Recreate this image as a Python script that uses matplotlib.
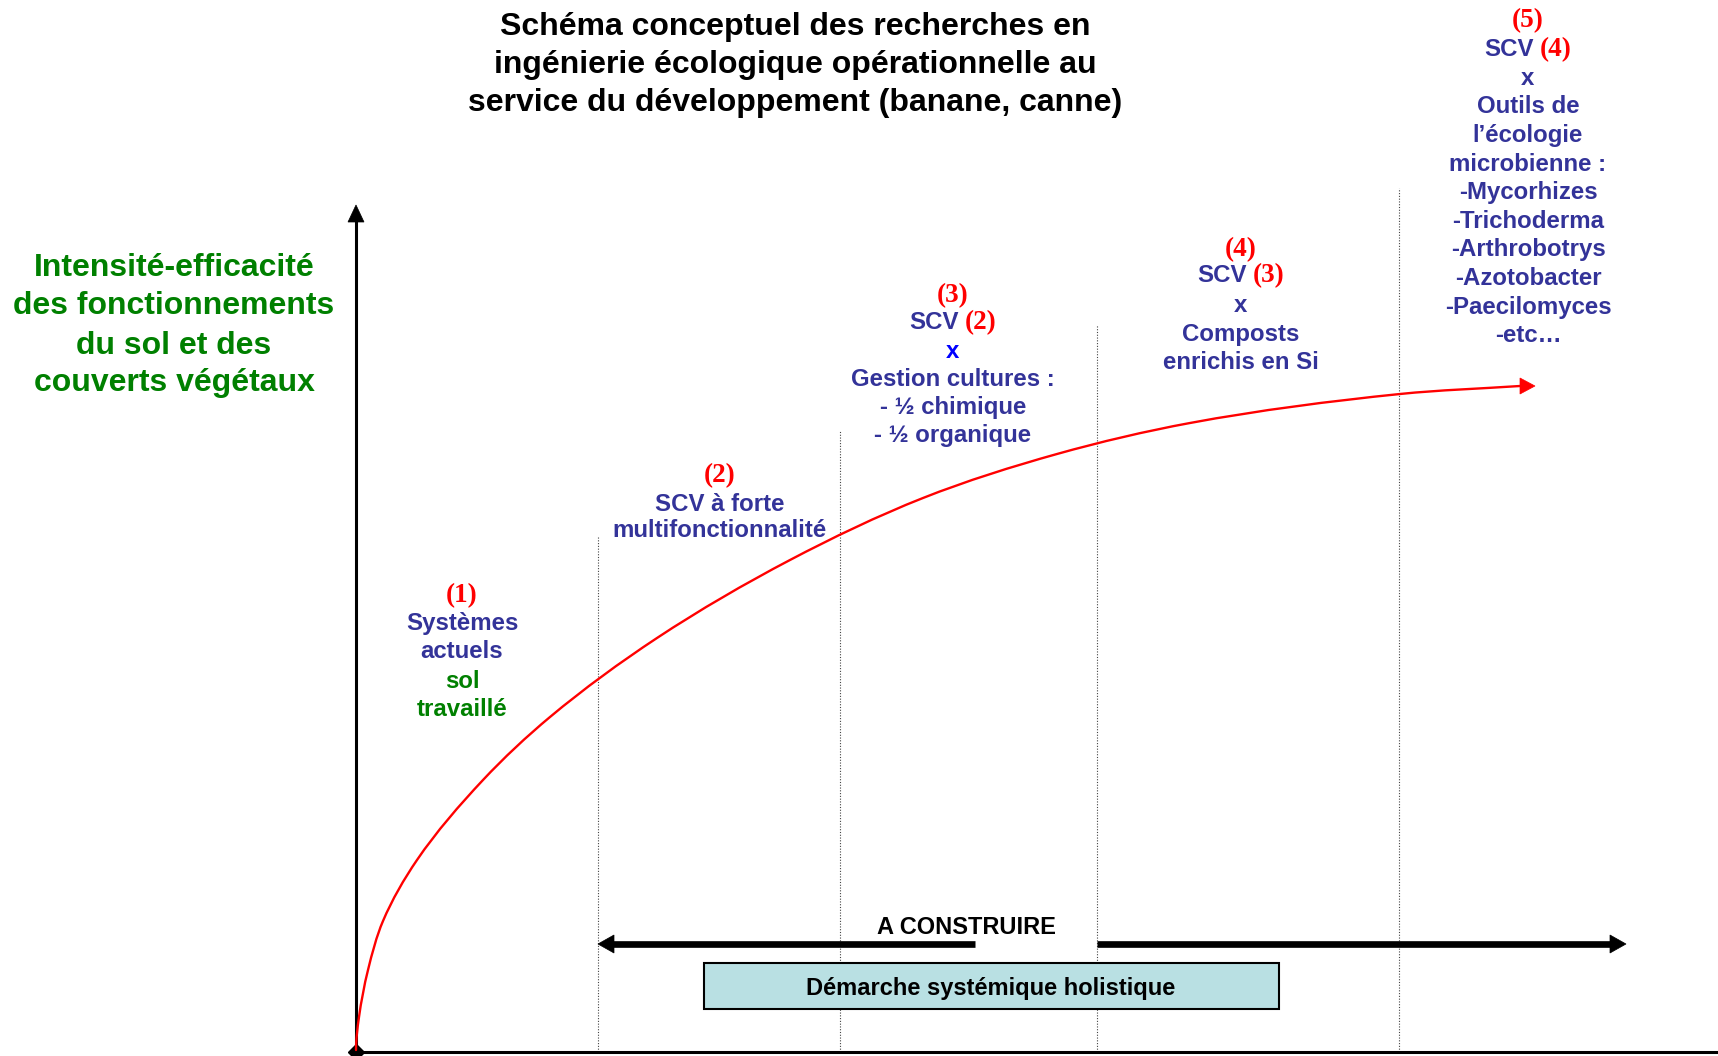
import matplotlib
matplotlib.use("Agg")
import matplotlib.pyplot as plt
from matplotlib.patches import Rectangle, Polygon, PathPatch
from matplotlib.path import Path
import numpy as np

# ---------------- data ----------------
# red curve, x = distance from the vertical axis, y = height above the horizontal axis
curve_x = [0, 3, 12, 27, 61, 127, 194, 301, 434, 567, 701, 834, 1044, 1164]
curve_y = [2, 35, 82, 131, 192, 272, 335, 414, 492, 554, 598, 629, 658, 666]
curve_tip_x = 1179

stage_x = [242, 484, 741, 1043]          # dotted stage boundaries
stage_top = [515, 621, 727, 864]

title_lines = ["Schéma conceptuel des recherches en",
               "ingénierie écologique opérationnelle au",
               "service du développement (banane, canne)"]
ylabel_lines = ["Intensité-efficacité", "des fonctionnements",
                "du sol et des", "couverts végétaux"]

label1_lines = [[("(1)", "r")], [("Systèmes", "b")], [("actuels", "b")],
                [("sol", "g")], [("travaillé", "g")]]
label2_lines = [[("(2)", "r")], [("SCV à forte", "b")], [("multifonctionnalité", "b")]]
label3_lines = [[("(3)", "r")], [("SCV", "b"), ("(2)", "r")], [("x", "x")],
                [("Gestion cultures :", "b")], [("- ½ chimique", "b")],
                [("- ½ organique", "b")]]
label4_lines = [[("(4)", "r")], [("SCV", "b"), ("(3)", "r")], [("x", "b")],
                [("Composts", "b")], [("enrichis en Si", "b")]]
label5_lines = [[("(5)", "r")], [("SCV", "b"), ("(4)", "r")], [("x", "b")],
                [("Outils de", "b")], [("l’écologie", "b")], [("microbienne :", "b")],
                [("-Mycorhizes", "b")], [("-Trichoderma", "b")], [("-Arthrobotrys", "b")],
                [("-Azotobacter", "b")], [("-Paecilomyces", "b")], [("-etc…", "b")]]

arrow_label = "A CONSTRUIRE"
box_label = "Démarche systémique holistique"

# ---------------- layout ----------------
W, H = 1718, 1056
OX, OY = 356, 1052   # pixel position of the origin


def X(px):
    return px - OX


def Y(py):
    return OY - py


BLUE, RED, GREEN, XBLUE = "#333399", "#ff0000", "#008000", "#0000ff"
COL = {"b": BLUE, "r": RED, "g": GREEN, "x": XBLUE}
SANS = ["Liberation Sans", "DejaVu Sans"]
SERIF = ["Liberation Serif", "DejaVu Serif"]

fig = plt.figure(figsize=(W / 100, H / 100), dpi=100)
ax = fig.add_axes([0, 0, 1, 1])
ax.set_xlim(-OX, W - OX)
ax.set_ylim(OY - H, OY)
ax.axis("off")
renderer = fig.canvas.get_renderer()


def draw_line(cx, py, parts, size=17.3, rsize=19.5):
    em = size * 100 / 72
    ts = []
    for s, k in parts:
        fam = SERIF if k == "r" else SANS
        fs = rsize if k == "r" else size
        t = ax.text(0, Y(py + 0.36 * em), s, color=COL[k], family=fam,
                    weight="bold", fontsize=fs, ha="left", va="baseline")
        ts.append(t)
    ws = [t.get_window_extent(renderer).width for t in ts]
    gap = 0.278 * em
    total = sum(ws) + gap * (len(ts) - 1)
    x0 = X(cx) - total / 2
    for t, w in zip(ts, ws):
        t.set_x(x0)
        x0 += w + gap


# title
for py, s in zip([23, 61, 100], title_lines):
    ax.text(X(795), Y(py + 11.5), s, ha="center", va="baseline", fontsize=23,
            weight="bold", family=SANS, color="black")

# green axis label
for py, s in zip([265, 303, 342, 380], ylabel_lines):
    ax.text(X(174), Y(py + 11.5), s, ha="center", va="baseline", fontsize=23,
            weight="bold", family=SANS, color=GREEN)

# stage labels
for cx, ys, lines in [
    (462, [593, 621, 649, 679, 707], label1_lines),
    (720, [473, 502, 528], label2_lines),
    (953, [293, 320, 349, 377, 405, 433], label3_lines),
    (1241, [247, 273, 303, 332, 360], label4_lines),
    (1528, [18, 47, 76, 104, 133, 162, 190, 219, 247, 276, 305, 333], label5_lines),
]:
    for py, parts in zip(ys, lines):
        draw_line(cx, py, parts)

# dotted stage boundaries
for sx, st in zip(stage_x, stage_top):
    ax.plot([sx, sx], [0, st], color="#444444", lw=0.8, ls=(0, (1, 1.5)), zorder=1)

# axes
ax.plot([0, 0], [0, 831], color="black", lw=2.2, solid_capstyle="butt", zorder=3)
ax.add_patch(Polygon([[0, 847], [-8, 830], [8, 830]], closed=True,
                     facecolor="black", edgecolor="black", lw=0.5, zorder=3))
ax.plot([0, W - OX], [0, 0], color="black", lw=2.2, zorder=3)
ax.plot([0], [0], marker="D", ms=8, color="black", zorder=4)

# red curve: smooth Hermite/Bezier path through the read points
P = np.column_stack([curve_x, curve_y]).astype(float)
n = len(P)
tang = np.zeros_like(P)
for i in range(n):
    if i == 0:
        tang[i] = [0.0, 1.0]
    elif i == n - 1:
        d = P[i] - P[i - 1]
        tang[i] = d / np.linalg.norm(d)
    else:
        a = P[i] - P[i - 1]
        b = P[i + 1] - P[i]
        t = a / np.linalg.norm(a) + b / np.linalg.norm(b)
        tang[i] = t / np.linalg.norm(t)
verts = [P[0]]
codes = [Path.MOVETO]
for i in range(n - 1):
    L = np.linalg.norm(P[i + 1] - P[i]) / 3.0
    verts += [P[i] + tang[i] * L, P[i + 1] - tang[i + 1] * L, P[i + 1]]
    codes += [Path.CURVE4] * 3
ax.add_patch(PathPatch(Path(verts, codes), facecolor="none", edgecolor=RED,
                       lw=1.7, zorder=5, capstyle="round"))
ax.add_patch(Polygon([[curve_tip_x, curve_y[-1]], [curve_x[-1], curve_y[-1] + 8],
                      [curve_x[-1], curve_y[-1] - 8]], closed=True,
                     facecolor=RED, edgecolor=RED, lw=0.5, zorder=5))

# black double arrow "A CONSTRUIRE"
ay = Y(944)
ax.plot([X(612), X(975)], [ay, ay], color="black", lw=4.8, solid_capstyle="butt", zorder=3)
ax.plot([X(1097), X(1611)], [ay, ay], color="black", lw=4.8, solid_capstyle="butt", zorder=3)
ax.add_patch(Polygon([[X(598), ay], [X(614), ay + 9], [X(614), ay - 9]], closed=True,
                     facecolor="black", edgecolor="black", lw=0.5, zorder=3))
ax.add_patch(Polygon([[X(1626), ay], [X(1610), ay + 9], [X(1610), ay - 9]], closed=True,
                     facecolor="black", edgecolor="black", lw=0.5, zorder=3))
ax.text(X(966), Y(926 + 8.5), arrow_label, ha="center", va="baseline", fontsize=17,
        weight="bold", family=SANS, color="black")

# box
ax.add_patch(Rectangle((X(704), Y(1009)), 1279 - 704, 1009 - 963,
                       facecolor="#b9e0e3", edgecolor="black", lw=1.5, zorder=3))
ax.text(X(991), Y(986 + 8.5), box_label, ha="center", va="baseline", fontsize=17,
        weight="bold", family=SANS, color="black", zorder=4)

fig.savefig("out.png", dpi=100)
